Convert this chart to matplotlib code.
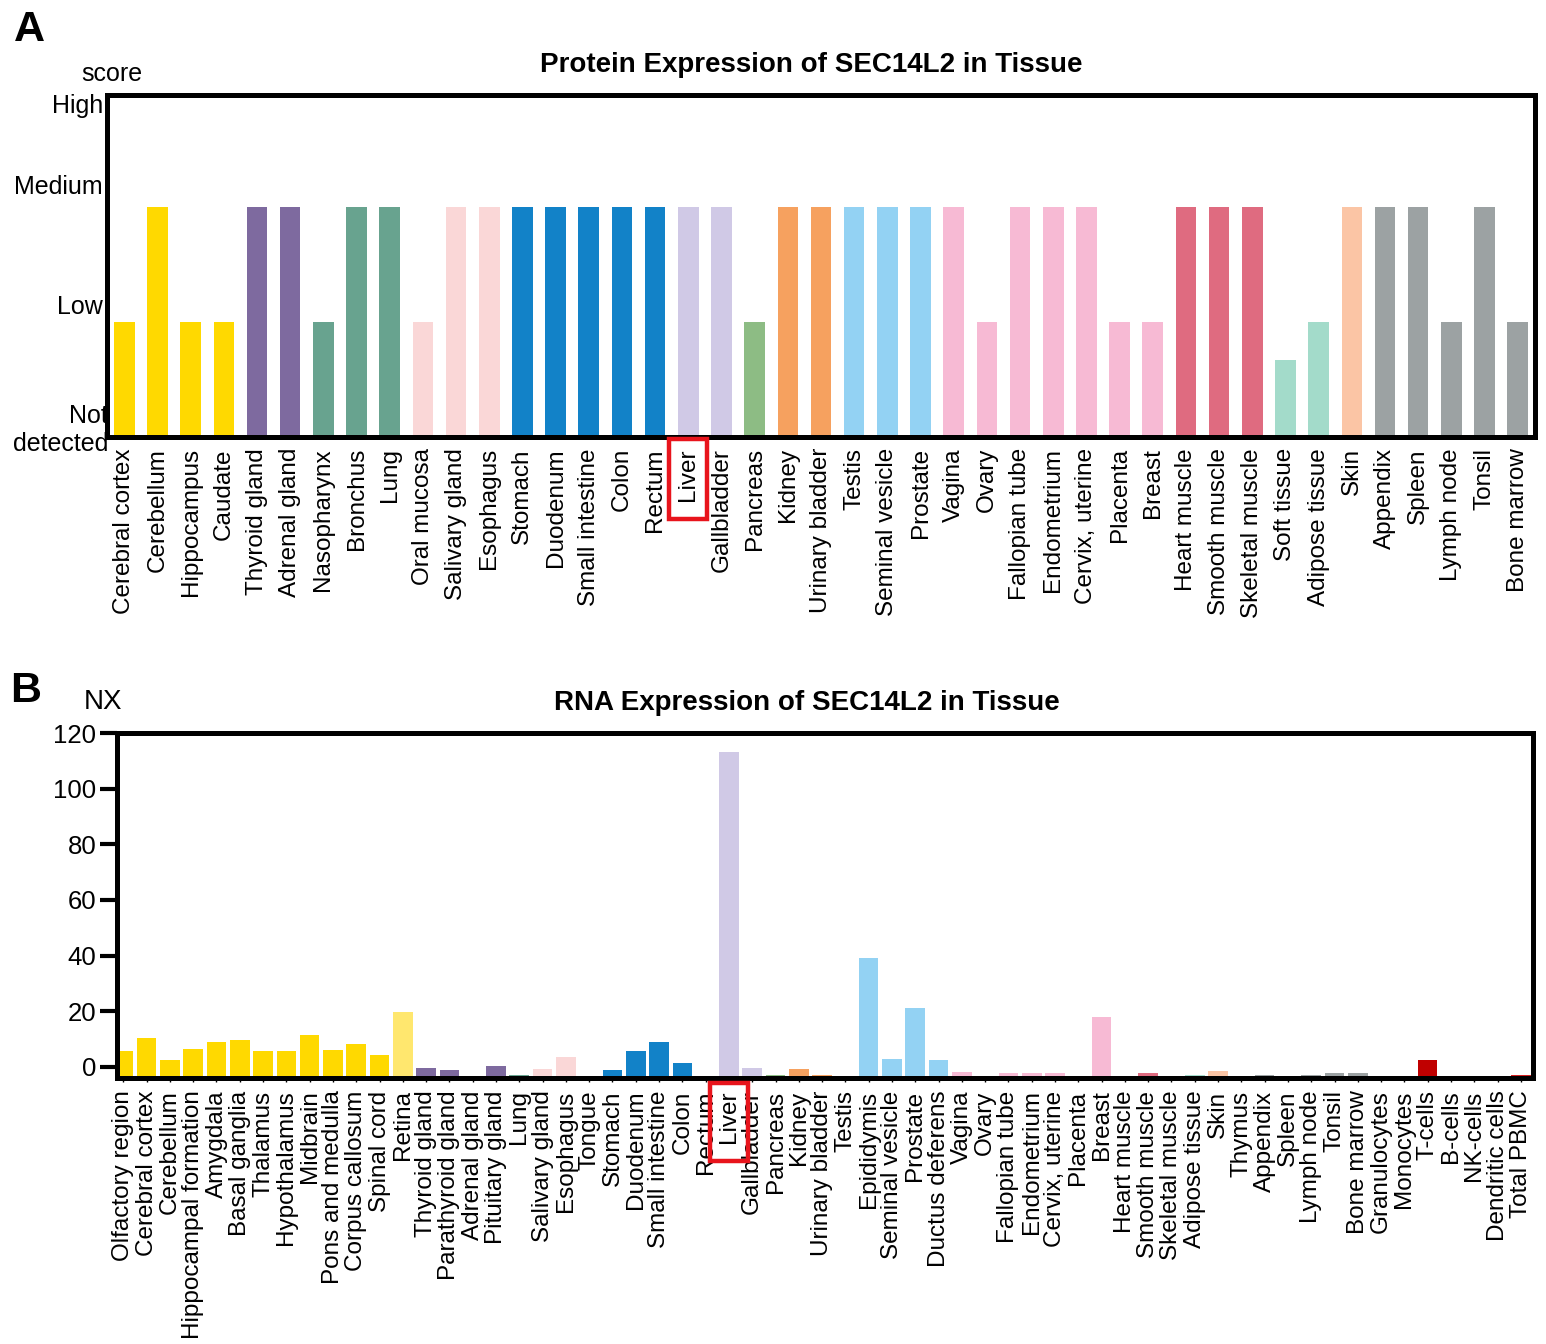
import matplotlib
matplotlib.use('Agg')
import matplotlib.pyplot as plt
from matplotlib.patches import Rectangle

plt.rcParams['font.family'] = ['Liberation Sans', 'DejaVu Sans']

# ---------------- data: panel A (protein score) ----------------
prot_tissues = ['Cerebral cortex', 'Cerebellum', 'Hippocampus', 'Caudate', 'Thyroid gland',
                'Adrenal gland', 'Nasopharynx', 'Bronchus', 'Lung', 'Oral mucosa',
                'Salivary gland', 'Esophagus', 'Stomach', 'Duodenum', 'Small intestine',
                'Colon', 'Rectum', 'Liver', 'Gallbladder', 'Pancreas', 'Kidney',
                'Urinary bladder', 'Testis', 'Seminal vesicle', 'Prostate', 'Vagina', 'Ovary',
                'Fallopian tube', 'Endometrium', 'Cervix, uterine', 'Placenta', 'Breast',
                'Heart muscle', 'Smooth muscle', 'Skeletal muscle', 'Soft tissue',
                'Adipose tissue', 'Skin', 'Appendix', 'Spleen', 'Lymph node', 'Tonsil',
                'Bone marrow']
# 0 = not detected, 1 = low, 2 = medium, 3 = high
prot_scores = [1, 2, 1, 1, 2,
               2, 1, 2, 2, 1,
               2, 2, 2, 2, 2,
               2, 2, 2, 2, 1, 2,
               2, 2, 2, 2, 2, 1,
               2, 2, 2, 1, 1,
               2, 2, 2, 0.67,
               1, 2, 2, 2, 1, 2,
               1]
prot_groups = ['brain'] * 4 + ['endo'] * 2 + ['resp'] * 3 + ['oral'] * 3 + ['gi'] * 5 + \
              ['liver'] * 2 + ['panc'] + ['kidney'] * 2 + ['male'] * 3 + ['female'] * 7 + \
              ['muscle'] * 3 + ['soft'] * 2 + ['skin'] + ['lymph'] * 5
score_labels = ['Low', 'Medium', 'High']

# ---------------- data: panel B (RNA, NX) ----------------
rna_tissues = ['Olfactory region', 'Cerebral cortex', 'Cerebellum', 'Hippocampal formation',
               'Amygdala', 'Basal ganglia', 'Thalamus', 'Hypothalamus', 'Midbrain',
               'Pons and medulla', 'Corpus callosum', 'Spinal cord', 'Retina',
               'Thyroid gland', 'Parathyroid gland', 'Adrenal gland', 'Pituitary gland',
               'Lung', 'Salivary gland', 'Esophagus', 'Tongue', 'Stomach', 'Duodenum',
               'Small intestine', 'Colon', 'Rectum', 'Liver', 'Gallbladder', 'Pancreas',
               'Kidney', 'Urinary bladder', 'Testis', 'Epididymis', 'Seminal vesicle',
               'Prostate', 'Ductus deferens', 'Vagina', 'Ovary', 'Fallopian tube',
               'Endometrium', 'Cervix, uterine', 'Placenta', 'Breast', 'Heart muscle',
               'Smooth muscle', 'Skeletal muscle', 'Adipose tissue', 'Skin', 'Thymus',
               'Appendix', 'Spleen', 'Lymph node', 'Tonsil', 'Bone marrow', 'Granulocytes',
               'Monocytes', 'T-cells', 'B-cells', 'NK-cells', 'Dendritic cells', 'Total PBMC']
rna_nx = [5.7, 10.3, 2.6, 6.3, 9.1, 9.6, 5.7, 5.7, 11.6, 6.0, 8.1, 4.2, 19.8,
          -0.3, -1.0, -3.3, 0.2,
          -2.9, -0.9, 3.4, -3.9, -1.2, 5.7, 9.1, 1.3, -3.3, 113.0, -0.3, -2.9,
          -0.9, -2.9, -3.5, 39.0, 3.0, 21.2, 2.6,
          -1.8, -3.3, -2.1, -2.1, -2.1, -3.3, 18.1,
          -3.3, -2.1, -3.5, -2.9, -1.6,
          -3.5, -2.9, -3.7, -2.9, -2.1, -2.1,
          -3.9, -3.9, 2.5, -3.5, -3.9, -3.5, -2.9]
rna_groups = ['brain'] * 12 + ['retina'] + ['endo'] * 4 + ['resp'] + ['oral'] * 3 + ['gi'] * 5 + \
             ['liver'] * 2 + ['panc'] + ['kidney'] * 2 + ['male'] * 5 + ['female'] * 7 + \
             ['muscle'] * 3 + ['soft'] + ['skin'] + ['lymph'] * 6 + \
             ['gran', 'mono', 'tcell', 'bcell', 'nk', 'dc', 'pbmc']
nx_ticks = [0, 20, 40, 60, 80, 100, 120]

palette = {
    'brain': '#FFD900', 'retina': '#FFE76E', 'endo': '#7E6A9F', 'resp': '#68A38F',
    'oral': '#FAD7D7', 'gi': '#1282C8', 'liver': '#D0C9E6', 'panc': '#8DBC84',
    'kidney': '#F6A15F', 'male': '#93D2F3', 'female': '#F7BAD4', 'muscle': '#DF6B80',
    'soft': '#A3DBCA', 'skin': '#FBC5A5', 'lymph': '#9CA2A3',
    'gran': '#F8D3C0', 'mono': '#F0D0D0', 'tcell': '#C00000', 'bcell': '#F2B8B8',
    'nk': '#E8D8E8', 'dc': '#EAB0C6', 'pbmc': '#D42020',
}

W, H = 1546, 1344
fig = plt.figure(figsize=(W / 100, H / 100), dpi=100)
fig.patch.set_facecolor('white')


def px_axes(l, t, r, b):
    return fig.add_axes([l / W, 1 - b / H, (r - l) / W, (b - t) / H])


def fx(x):
    return x / W


def fy(y):
    return 1 - y / H


# ---------------- Panel A ----------------
axA = px_axes(107, 95, 1535, 437)
xa = list(range(len(prot_tissues)))
axA.bar(xa, prot_scores, width=0.62, color=[palette[g] for g in prot_groups], zorder=2)
axA.set_xlim(-0.52, len(prot_tissues) - 0.48)
axA.set_ylim(0, 2.97)
axA.set_xticks(xa)
axA.set_xticklabels(prot_tissues, rotation=90, fontsize=17.5)
axA.tick_params(axis='x', length=0, pad=8)
axA.set_yticks([1.15, 2.19, 2.90])
axA.set_yticklabels(score_labels, fontsize=18)
axA.tick_params(axis='y', length=0, pad=3)
for s in axA.spines.values():
    s.set_linewidth(3.6)
    s.set_zorder(5)

fig.text(fx(108), fy(430), 'Not\ndetected', ha='right', va='center', multialignment='right',
         fontsize=18, linespacing=1.2, zorder=-1)
fig.text(fx(112), fy(74), 'score', ha='center', va='center', fontsize=18)
fig.text(fx(811), fy(65), 'Protein Expression of SEC14L2 in Tissue', ha='center', va='center',
         fontsize=20, fontweight='bold')
fig.text(fx(29), fy(30), 'A', ha='center', va='center', fontsize=31, fontweight='bold')

# ---------------- Panel B ----------------
BASE = -4
axB = px_axes(117, 733, 1533, 1078)
xb = list(range(len(rna_tissues)))
axB.bar(xb, [v - BASE for v in rna_nx], bottom=BASE, width=0.84,
        color=[palette[g] for g in rna_groups], zorder=2)
axB.set_xlim(-0.27, len(rna_tissues) - 0.48)
axB.set_ylim(BASE, 120)
axB.set_yticks(nx_ticks)
axB.set_yticklabels([str(t) for t in nx_ticks], fontsize=18.5)
axB.tick_params(axis='y', length=12, width=3, pad=3)
axB.set_xticks(xb)
axB.set_xticklabels(rna_tissues, rotation=90, fontsize=17.5)
axB.tick_params(axis='x', length=3, width=1, pad=6)
for s in axB.spines.values():
    s.set_linewidth(3.6)
    s.set_zorder(5)

fig.text(fx(103), fy(702), 'NX', ha='center', va='center', fontsize=20)
fig.text(fx(807), fy(703), 'RNA Expression of SEC14L2 in Tissue', ha='center', va='center',
         fontsize=20, fontweight='bold')
fig.text(fx(26), fy(691), 'B', ha='center', va='center', fontsize=31, fontweight='bold')

# ---------------- red boxes around "Liver" labels ----------------
fig.canvas.draw()
renderer = fig.canvas.get_renderer()


def box_label(ax, idx, top_px):
    lab = ax.get_xticklabels()[idx]
    bb = lab.get_window_extent(renderer)
    x0, x1 = bb.x0 - 8, bb.x1 + 8
    y_top = H - top_px
    y_bot = bb.y0 - 18
    fig.patches.append(Rectangle((x0 / W, y_bot / H), (x1 - x0) / W, (y_top - y_bot) / H,
                                 transform=fig.transFigure, fill=False, edgecolor='#E8141C',
                                 linewidth=3.2, zorder=10))


box_label(axA, prot_tissues.index('Liver'), 439)
box_label(axB, rna_tissues.index('Liver'), 1083)

fig.savefig('out.png', dpi=100)
